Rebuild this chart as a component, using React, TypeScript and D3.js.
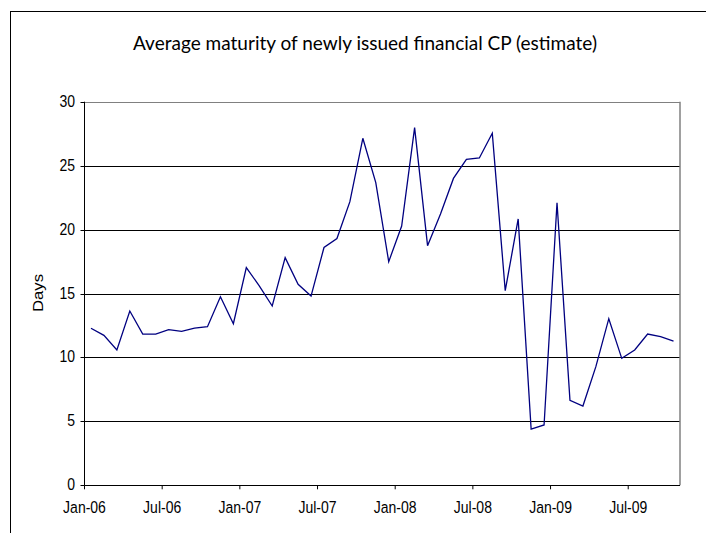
import React from "react";
import * as d3 from "d3";

const title = "Average maturity of newly issued financial CP (estimate)";
const yAxisTitle = "Days";
// monthly observations Jan-06 .. Oct-09
const months: string[] = [];
for (let y = 6; y <= 9; y++) {
  ["Jan", "Feb", "Mar", "Apr", "May", "Jun", "Jul", "Aug", "Sep", "Oct", "Nov", "Dec"].forEach((m) =>
    months.push(`${m}-0${y}`)
  );
}
const values = [
  12.28, 11.73, 10.58, 13.63, 11.83, 11.83, 12.17, 12.04, 12.3, 12.4, 14.75, 12.64,
  17.02, 15.6, 14.02, 17.8, 15.72, 14.8, 18.6, 19.3, 22.18, 27.14, 23.67, 17.49,
  20.28, 27.97, 18.74, 21.22, 24.0, 25.49, 25.6, 27.53, 15.22, 20.83, 4.4, 4.72,
  22.1, 6.65, 6.2, 9.28, 13.03, 9.93, 10.58, 11.83, 11.62, 11.28,
];
const xTickLabels = ["Jan-06", "Jul-06", "Jan-07", "Jul-07", "Jan-08", "Jul-08", "Jan-09", "Jul-09"];
const xTickIndex = [0, 6, 12, 18, 24, 30, 36, 42];
const yTicks = [0, 5, 10, 15, 20, 25, 30];

export default function App() {
  const W = 706, H = 533;
  const left = 84.5, right = 680, top = 101.7, bottom = 485.3;
  const x = d3.scaleLinear().domain([0, 46]).range([left, right]);
  const y = d3.scaleLinear().domain([0, 30]).range([bottom, top]);
  const line = d3
    .line<number>()
    .x((_, i) => x(i + 0.5))
    .y((d) => y(d));
  const tickFont = "'Liberation Sans', Arial, sans-serif";
  return (
    <svg
      width={W}
      height={H}
      style={{ position: "absolute", left: 0, top: 0, background: "#fff" }}
      xmlns="http://www.w3.org/2000/svg"
    >
      <rect x={0} y={0} width={W} height={H} fill="#fff" />
      <rect x={10.5} y={11.5} width={720} height={560} fill="#fff" stroke="#000" strokeWidth={1} />
      <text
        transform={`translate(365,50) scale(1,1.12)`}
        textAnchor="middle"
        fontFamily="Lato, 'Open Sans', sans-serif"
        fontSize={17.5}
        textLength={464}
        lengthAdjust="spacingAndGlyphs"
        fill="#000"
      >
        {title}
      </text>
      {/* gridlines */}
      {yTicks.filter((t) => t > 0 && t < 30).map((t) => (
        <line key={t} x1={left} x2={right} y1={Math.round(y(t)) + 0.5} y2={Math.round(y(t)) + 0.5} stroke="#000" strokeWidth={1} />
      ))}
      {/* plot area border top/right */}
      <line x1={left} x2={right} y1={Math.round(y(30)) + 0.5} y2={Math.round(y(30)) + 0.5} stroke="#808080" strokeWidth={1.2} />
      <line x1={right} x2={right} y1={y(30)} y2={bottom} stroke="#808080" strokeWidth={1.5} />
      {/* axes */}
      <line x1={left} x2={left} y1={y(30)} y2={bottom} stroke="#000" strokeWidth={1} />
      <line x1={left} x2={right} y1={Math.round(bottom) + 0.5} y2={Math.round(bottom) + 0.5} stroke="#000" strokeWidth={1} />
      {yTicks.map((t) => (
        <g key={t}>
          <line x1={left - 4} x2={left} y1={Math.round(y(t)) + 0.5} y2={Math.round(y(t)) + 0.5} stroke="#000" />
          <text
            transform={`translate(75,${y(t) + 5}) scale(1,1.12)`}
            textAnchor="end"
            fontFamily={tickFont}
            fontSize={14}
            fill="#000"
          >
            {t}
          </text>
        </g>
      ))}
      {xTickIndex.map((idx, k) => (
        <g key={idx}>
          <line x1={x(idx)} x2={x(idx)} y1={bottom} y2={bottom + 4} stroke="#000" />
          <text
            transform={`translate(${x(idx)},513) scale(1,1.12)`}
            textAnchor="middle"
            fontFamily={tickFont}
            fontSize={14}
            fill="#000"
          >
            {xTickLabels[k]}
          </text>
        </g>
      ))}
      <text
        transform={`translate(43,293) rotate(-90) scale(1.12,1)`}
        textAnchor="middle"
        fontFamily={tickFont}
        fontSize={15}
        fill="#000"
      >
        {yAxisTitle}
      </text>
      <path d={line(values) || ""} fill="none" stroke="#000080" strokeWidth={1.3} strokeLinejoin="miter" />
    </svg>
  );
}
